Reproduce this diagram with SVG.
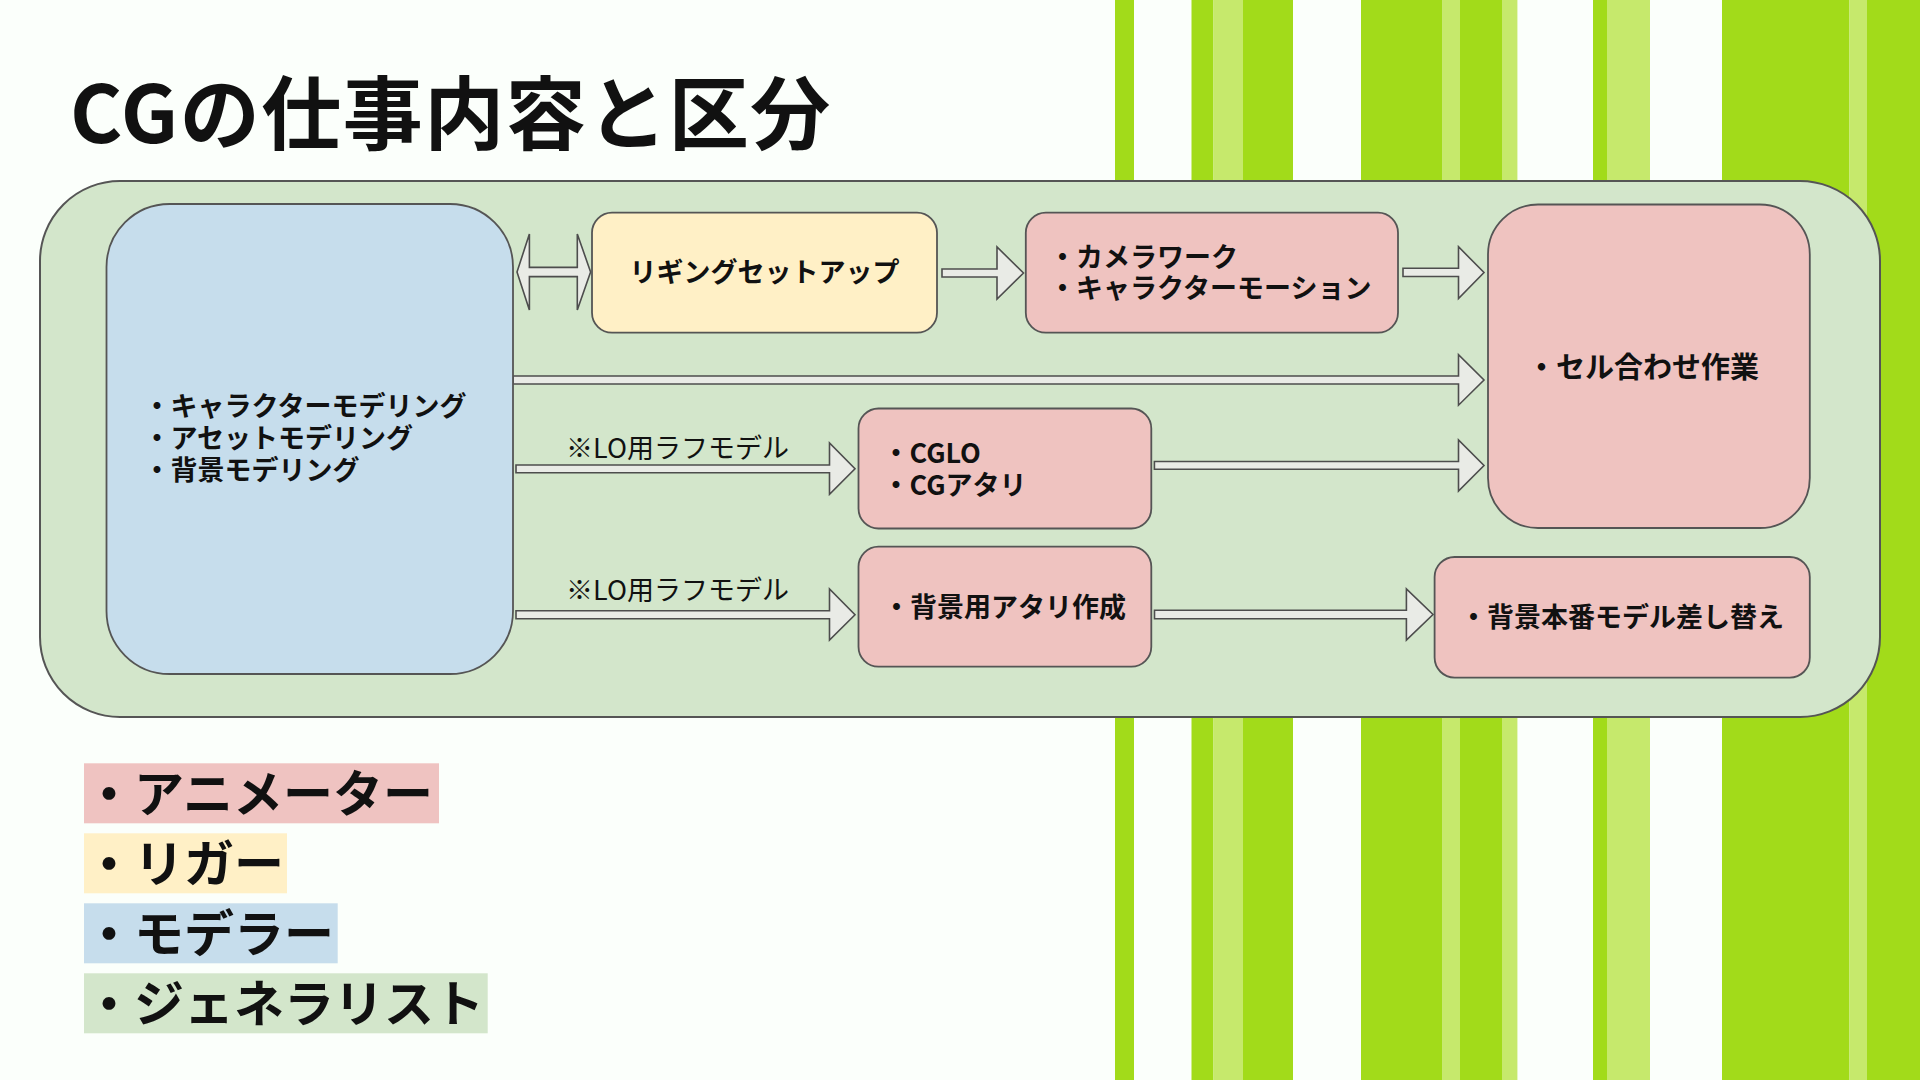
<svg xmlns="http://www.w3.org/2000/svg" width="1920" height="1080" viewBox="0 0 1920 1080">
<style>
.dk{fill:#a2db1a}
.lt{fill:#c6e96c}
.box{stroke:#555;stroke-width:1.8}
.pink{fill:#efc3c0}
.yel{fill:#fff0c6}
.blu{fill:#c6ddec}
.arr{fill:#e9ebe6;stroke:#4d4d4d;stroke-width:1.6;stroke-linejoin:miter}
.t{font-family:"Noto Sans CJK JP","Noto Sans",sans-serif;font-weight:700;fill:#111}
.lbl{font-family:"Noto Sans CJK JP","Noto Sans",sans-serif;font-weight:400;fill:#111;font-size:27px}
</style>
<rect width="1920" height="1080" fill="#fbfffb"/>
<g id="stripes">
<rect class="dk" x="1115" y="0" width="19" height="1080"/>
<rect class="dk" x="1191.5" y="0" width="22" height="1080"/>
<rect class="lt" x="1213.5" y="0" width="29.5" height="1080"/>
<rect class="dk" x="1243" y="0" width="50" height="1080"/>
<rect class="dk" x="1361" y="0" width="81.6" height="1080"/>
<rect class="lt" x="1442.6" y="0" width="17.4" height="1080"/>
<rect class="dk" x="1460" y="0" width="42" height="1080"/>
<rect class="lt" x="1502" y="0" width="15.4" height="1080"/>
<rect class="dk" x="1593" y="0" width="14" height="1080"/>
<rect class="lt" x="1607" y="0" width="43" height="1080"/>
<rect class="dk" x="1722" y="0" width="127.5" height="1080"/>
<rect class="lt" x="1849.5" y="0" width="17.5" height="1080"/>
<rect class="dk" x="1867" y="0" width="53" height="1080"/>
</g>
<text id="title" class="t" x="70" y="143" font-size="80" letter-spacing="1.5" fill="#000">CGの仕事内容と区分</text>
<g id="outer">
<rect x="40" y="181" width="1840" height="536" rx="80" ry="80" fill="#d3e6cb" stroke="#555" stroke-width="2"/>
</g>
<g id="connectors">
<polygon class="arr" points="517,272 529.4,234 529.4,267.4 577.3,267.4 577.3,234 590.6,272 577.3,310 577.3,276.6 529.4,276.6 529.4,310"/>
<polygon class="arr" points="942,269 997,269 997,247 1023.5,273 997,299 997,277 942,277"/>
<polygon class="arr" points="1403,268.3 1458.5,268.3 1458.5,246.8 1484,272.5 1458.5,298.5 1458.5,276.5 1403,276.5"/>
<polygon class="arr" points="513,376 1458.5,376 1458.5,354.6 1484,380 1458.5,405.2 1458.5,384 513,384"/>
<polygon class="arr" points="516,465 829.5,465 829.5,443 855,468.8 829.5,494.3 829.5,472.7 516,472.7"/>
<polygon class="arr" points="1154.4,461.5 1458.5,461.5 1458.5,440 1484,465.5 1458.5,491 1458.5,469.3 1154.4,469.3"/>
<polygon class="arr" points="516,610.7 829.5,610.7 829.5,589 855,614.7 829.5,640 829.5,618.7 516,618.7"/>
<polygon class="arr" points="1154.5,610.3 1406.4,610.3 1406.4,588.8 1433,614.5 1406.4,640 1406.4,618.7 1154.5,618.7"/>
<text class="lbl" x="566" y="458">※LO用ラフモデル</text>
<text class="lbl" x="566" y="600">※LO用ラフモデル</text>
</g>
<g id="modeling">
<rect class="box blu" x="106.5" y="204" width="406.5" height="470" rx="63" ry="63"/>
<text class="t" font-size="27" x="143.5" y="416">・キャラクターモデリング<tspan x="143.5" dy="32">・アセットモデリング</tspan><tspan x="143.5" dy="32">・背景モデリング</tspan></text>
</g>
<g id="rigging">
<rect class="box yel" x="592" y="212.7" width="345" height="120" rx="20" ry="20"/>
<text class="t" font-size="27" x="764.5" y="282" text-anchor="middle">リギングセットアップ</text>
</g>
<g id="camera">
<rect class="box pink" x="1025.8" y="212.7" width="372.2" height="120" rx="20" ry="20"/>
<text class="t" font-size="27" x="1049" y="267">・カメラワーク<tspan x="1049" dy="31">・キャラクターモーション</tspan></text>
</g>
<g id="cel">
<rect class="box pink" x="1488" y="204.5" width="321.8" height="323.5" rx="50" ry="50"/>
<text class="t" font-size="29" x="1643" y="378.3" text-anchor="middle">・セル合わせ作業</text>
</g>
<g id="cglo">
<rect class="box pink" x="858.5" y="408.5" width="292.8" height="120" rx="20" ry="20"/>
<text class="t" font-size="27" x="882.5" y="463">・CGLO<tspan x="882.5" dy="32">・CGアタリ</tspan></text>
</g>
<g id="bgatari">
<rect class="box pink" x="858.5" y="546.7" width="292.8" height="120" rx="20" ry="20"/>
<text class="t" font-size="27" x="1004.5" y="617" text-anchor="middle">・背景用アタリ作成</text>
</g>
<g id="bgfinal">
<rect class="box pink" x="1434.6" y="557" width="375.2" height="120.6" rx="20" ry="20"/>
<text class="t" font-size="27" x="1622" y="627.3" text-anchor="middle">・背景本番モデル差し替え</text>
</g>
<g id="legend">
<rect x="84" y="763.3" width="355" height="60" fill="#efc3c1"/>
<text class="t" font-size="50" x="84" y="812">・アニメーター</text>
<rect x="84" y="833.3" width="203" height="60" fill="#fff0c6"/>
<text class="t" font-size="50" x="84" y="882">・リガー</text>
<rect x="84" y="903.3" width="253.7" height="60" fill="#c6ddec"/>
<text class="t" font-size="50" x="84" y="952">・モデラー</text>
<rect x="84" y="973.3" width="403.7" height="60" fill="#d3e6cb"/>
<text class="t" font-size="50" x="84" y="1022">・ジェネラリスト</text>
</g>
</svg>
